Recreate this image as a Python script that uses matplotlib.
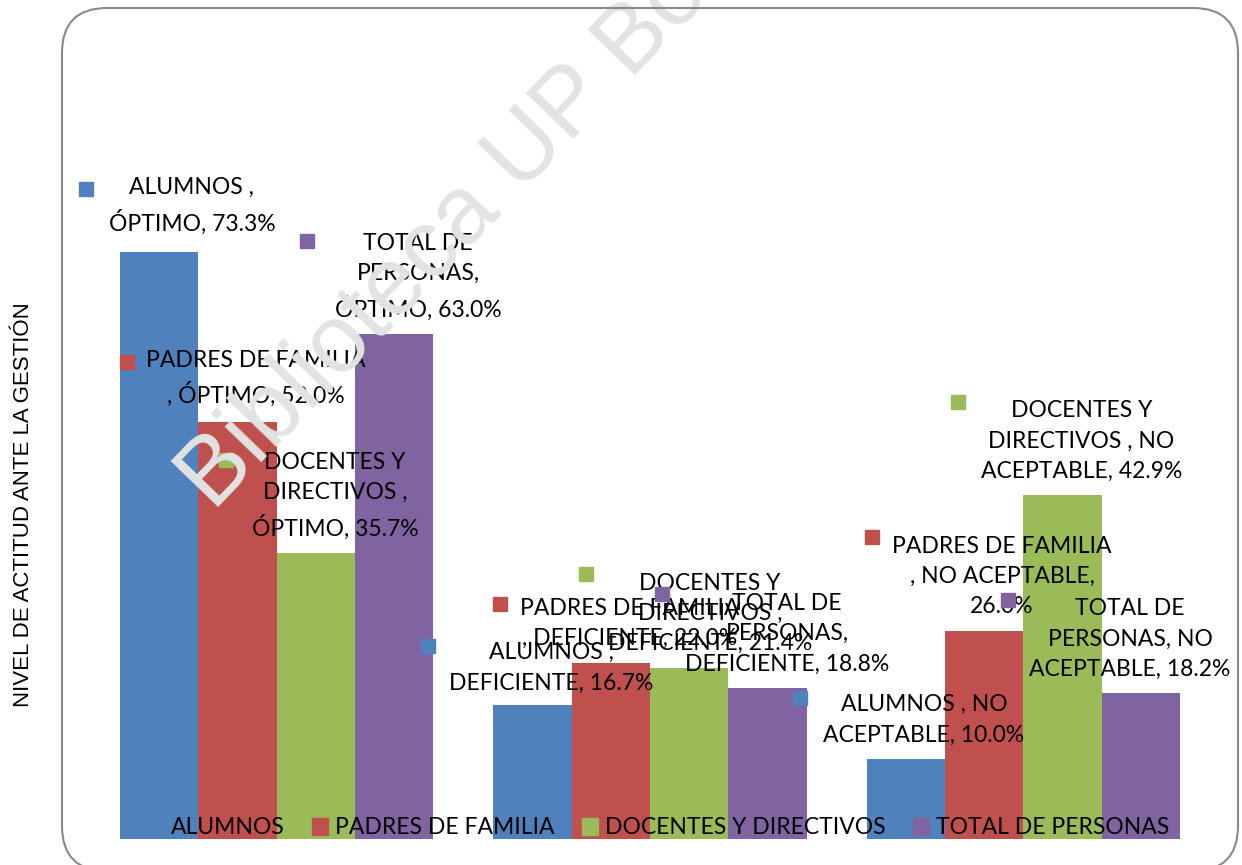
import numpy as np
import matplotlib.pyplot as plt
from matplotlib.patches import FancyBboxPatch, Patch

categories = ['ÓPTIMO', 'DEFICIENTE', 'NO ACEPTABLE']
series = ['ALUMNOS', 'PADRES DE FAMILIA', 'DOCENTES Y DIRECTIVOS', 'TOTAL DE PERSONAS']
alumnos = [73.3, 16.7, 10.0]
padres = [52.0, 22.0, 26.0]
docentes = [35.7, 21.4, 42.9]
total = [63.0, 18.8, 18.2]
values = [alumnos, padres, docentes, total]
colors = ['#4F81BD', '#C0504D', '#9BBB59', '#8064A2']
y_label = 'NIVEL DE ACTITUD ANTE LA GESTIÓN'

# label text as Excel wrapped it (series, category)
label_tpl = [
    ['ALUMNOS ,\nÓPTIMO, {:.1f}%', 'ALUMNOS ,\nDEFICIENTE, {:.1f}%', 'ALUMNOS , NO\nACEPTABLE, {:.1f}%'],
    ['PADRES DE FAMILIA\n, ÓPTIMO, {:.1f}%', 'PADRES DE FAMILIA\n, DEFICIENTE, {:.1f}%',
     'PADRES DE FAMILIA\n, NO ACEPTABLE,\n{:.1f}%'],
    ['DOCENTES Y\nDIRECTIVOS ,\nÓPTIMO, {:.1f}%', 'DOCENTES Y\nDIRECTIVOS ,\nDEFICIENTE, {:.1f}%',
     'DOCENTES Y\nDIRECTIVOS , NO\nACEPTABLE, {:.1f}%'],
    ['TOTAL DE\nPERSONAS,\nÓPTIMO, {:.1f}%', 'TOTAL DE\nPERSONAS,\nDEFICIENTE, {:.1f}%',
     'TOTAL DE\nPERSONAS, NO\nACEPTABLE, {:.1f}%'],
]
# label layout in data units: (text x, first baseline y, key x, key y)
label_pos = [
    [(-0.227, 80.0, -0.511, 81.1), (0.735, 22.8, 0.405, 24.1), (1.734, 16.3, 1.402, 17.6)],
    [(-0.055, 58.5, -0.401, 59.5), (0.946, 28.3, 0.598, 29.3), (1.943, 36.4, 1.595, 37.7)],
    [(0.156, 46.05, -0.136, 47.3), (1.161, 31.8, 0.829, 33.1), (2.155, 53.3, 1.825, 54.5)],
    [(0.379, 73.4, 0.081, 74.6), (1.367, 29.3, 1.032, 30.6), (2.286, 28.6, 1.959, 29.8)],
]

font = 'Lato'
fs = 16.5
line_pt = 23.8  # distance between label lines, points

fig = plt.figure(figsize=(12.42, 8.65), dpi=100)
ax = fig.add_axes([90 / 1242, 26 / 865, 1120 / 1242, 641 / 865])

x = np.arange(len(categories))
w = 0.21
for i, (name, vals) in enumerate(zip(series, values)):
    ax.bar(x + (i - 1.5) * w, vals, w, color=colors[i], label=name, zorder=2)

for i in range(len(series)):
    for j in range(len(categories)):
        tx, ty, kx, ky = label_pos[i][j]
        txt = label_tpl[i][j].format(values[i][j])
        n = txt.count('\n')
        # baseline alignment goes to the last line, so shift down
        ax.annotate(txt, (tx, ty), xytext=(0, -n * line_pt), textcoords='offset points',
                    ha='center', va='baseline', fontsize=fs, family=font, linespacing=1.55,
                    zorder=4, annotation_clip=False)
        ax.plot(kx, ky, marker='s', ms=10, color=colors[i], ls='none', zorder=4, clip_on=False)

ax.set_xlim(-0.5, 2.5)
ax.set_ylim(0, 80)
ax.axis('off')

handles = [Patch(color=c) for c in colors]
fig.legend(handles, series, loc='center', bbox_to_anchor=(0.53, 1 - 828 / 865), ncol=4,
           frameon=False, prop={'family': font, 'size': fs}, handlelength=0.7, handleheight=0.7,
           handletextpad=0.3, columnspacing=1.2)

fig.text(24 / 1242, 1 - 505 / 865, y_label, rotation=90, ha='center', va='center',
         fontsize=16, family='Liberation Sans')

# rounded chart border
fig.patches.append(FancyBboxPatch((0.62, -0.06), 11.76, 8.63, boxstyle='round,pad=0,rounding_size=0.45',
                                  transform=fig.dpi_scale_trans, fill=False, edgecolor='#8a8a8a',
                                  linewidth=1.5, zorder=10))

# watermark
fig.text(213 / 1242, 1 - 512 / 865, 'Biblioteca UP Bo', rotation=46, rotation_mode='anchor',
         ha='left', va='baseline', fontsize=69, family='Liberation Sans', color='#e3e3e3', zorder=6)

fig.savefig('out.png', dpi=100)
